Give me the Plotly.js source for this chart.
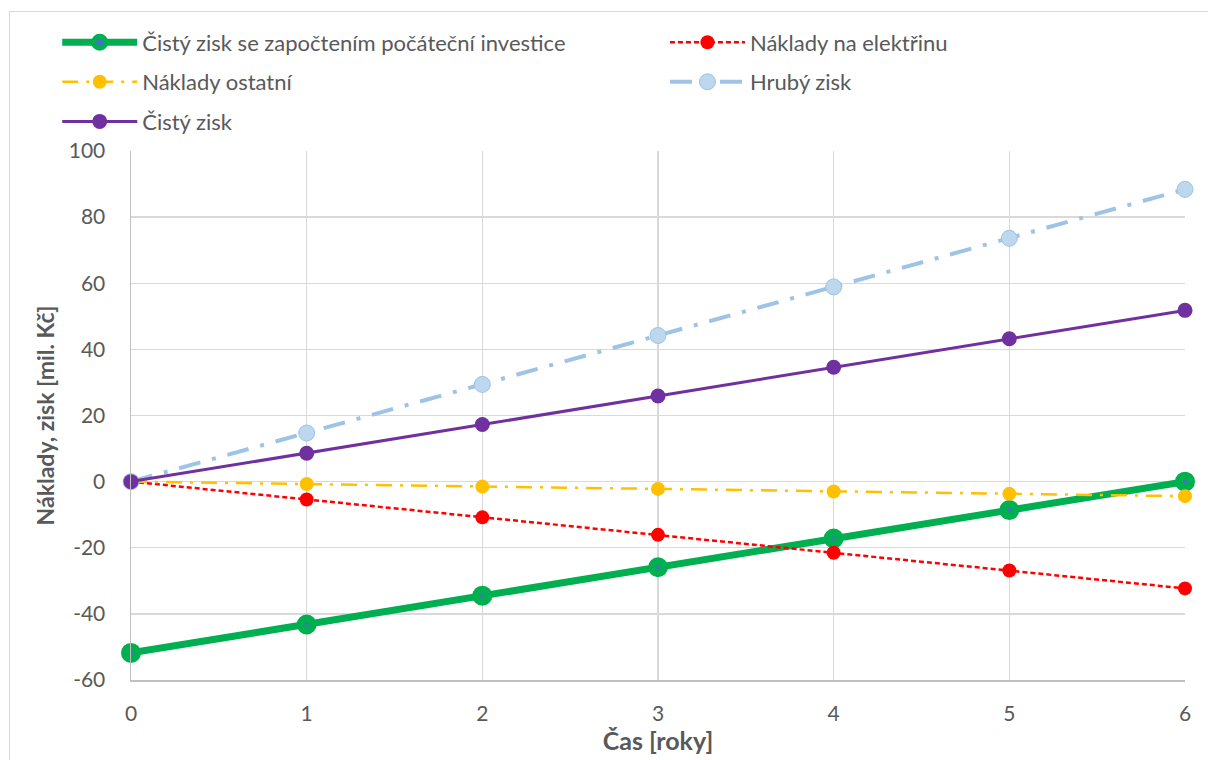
<!DOCTYPE html>
<html>
<head>
<meta charset="utf-8">
<script src="https://cdn.plot.ly/plotly-3.0.1.min.js"></script>
<style>
  html, body { margin: 0; padding: 0; background: #ffffff; overflow: hidden; }
  #frame { position: absolute; left: 9px; top: 11px; width: 1400px; height: 1000px; border: 1px solid #d9d9d9; box-sizing: border-box; }
  #chart { position: absolute; left: 0; top: 0; width: 1208px; height: 760px; }
</style>
</head>
<body>
<div id="frame"></div>
<div id="chart"></div>
<script>
// Data
const years = [0, 1, 2, 3, 4, 5, 6];
const cistyZiskInvestice = [-51.8, -43.2, -34.5, -25.9, -17.2, -8.6, 0];
const nakladyElektrina = [0, -5.4, -10.8, -16.1, -21.5, -26.9, -32.3];
const nakladyOstatni = [0, -0.7, -1.5, -2.2, -3.0, -3.7, -4.4];
const hrubyZisk = [0, 14.7, 29.4, 44.2, 58.9, 73.6, 88.4];
const cistyZisk = [0, 8.6, 17.3, 25.9, 34.6, 43.2, 51.8];

const seriesNames = [
  'Čistý zisk se započtením počáteční investice',
  'Náklady na elektřinu',
  'Náklady ostatní',
  'Hrubý zisk',
  'Čistý zisk'
];
const yTickVals = [-60, -40, -20, 0, 20, 40, 60, 80, 100];
const yTickText = ['-60', '-40', '-20', '0', '20', '40', '60', '80', '100'];
const xTitle = 'Čas [roky]';
const yTitle = 'Náklady, zisk [mil. Kč]';

const FONT = 'Lato, "Open Sans", sans-serif';

const traces = [
  {
    x: years, y: cistyZiskInvestice, name: seriesNames[0], mode: 'lines+markers',
    legend: 'legend', legendgroup: 'g1',
    line: { color: '#00b050', width: 7 },
    marker: { symbol: 'circle', size: 12, color: '#4472c4', line: { color: '#00b050', width: 8 } },
    cliponaxis: false
  },
  {
    x: years, y: nakladyElektrina, name: seriesNames[1], mode: 'lines+markers',
    legend: 'legend2', legendgroup: 'g2',
    line: { color: '#ff0000', width: 2.5, dash: '5px,3px' },
    marker: { symbol: 'circle', size: 14, color: '#ff0000' },
    cliponaxis: false
  },
  {
    x: years, y: nakladyOstatni, name: seriesNames[2], mode: 'lines+markers',
    legend: 'legend', legendgroup: 'g3',
    line: { color: '#ffc000', width: 2.5, dash: '16px,8px,3px,8px' },
    marker: { symbol: 'circle', size: 14, color: '#ffc000' },
    cliponaxis: false
  },
  {
    x: years, y: hrubyZisk, name: seriesNames[3], mode: 'lines+markers',
    legend: 'legend2', legendgroup: 'g4',
    line: { color: '#9dc3e6', width: 4, dash: '22px,12px,4px,12px' },
    marker: { symbol: 'circle', size: 16, color: '#bdd7ee', line: { color: '#9dc3e6', width: 1 } },
    cliponaxis: false
  },
  {
    x: years, y: cistyZisk, name: seriesNames[4], mode: 'lines+markers',
    legend: 'legend', legendgroup: 'g5',
    line: { color: '#7030a0', width: 3 },
    marker: { symbol: 'circle', size: 15, color: '#7030a0' },
    cliponaxis: false
  }
];

const legendCommon = {
  orientation: 'v', xanchor: 'left', yanchor: 'top',
  itemwidth: 75, traceorder: 'grouped', tracegroupgap: 8,
  font: { family: FONT, size: 22, color: '#595959' },
  bgcolor: 'rgba(0,0,0,0)'
};

const layout = {
  width: 1208, height: 760,
  paper_bgcolor: 'rgba(0,0,0,0)', plot_bgcolor: 'rgba(0,0,0,0)',
  margin: { l: 131, r: 23, t: 151, b: 80 },
  font: { family: FONT, size: 20, color: '#595959' },
  showlegend: true,
  legend: Object.assign({}, legendCommon, { x: -0.07, y: 1.245 }),
  legend2: Object.assign({}, legendCommon, { x: 0.5066, y: 1.245 }),
  xaxis: {
    range: [0, 6], dtick: 1, tick0: 0,
    showgrid: true, gridcolor: '#d9d9d9', gridwidth: 1.3,
    zeroline: false, showline: true, linecolor: '#bfbfbf', linewidth: 1.5,
    ticks: '', ticklabelstandoff: 14,
    tickfont: { family: FONT, size: 21, color: '#595959' },
    title: { text: xTitle, font: { family: FONT, size: 25, color: '#595959', weight: 'bold' }, standoff: 9 }
  },
  yaxis: {
    range: [-60, 100], tickmode: 'array', tickvals: yTickVals, ticktext: yTickText,
    showgrid: true, gridcolor: '#d9d9d9', gridwidth: 1.3,
    zeroline: false, showline: true, linecolor: '#bfbfbf', linewidth: 1.5,
    ticks: '', ticklabelstandoff: 20,
    tickfont: { family: FONT, size: 21, color: '#595959' },
    title: { text: yTitle, font: { family: FONT, size: 23, color: '#595959', weight: 'bold' }, standoff: 7 }
  }
};

Plotly.newPlot('chart', traces, layout, { staticPlot: true, displayModeBar: false });
</script>
</body>
</html>
